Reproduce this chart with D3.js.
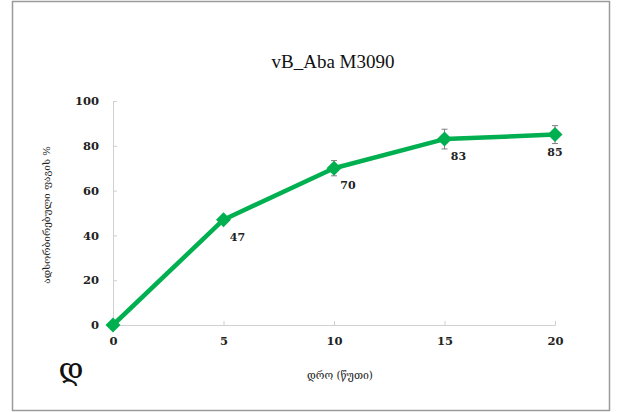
<!DOCTYPE html>
<html>
<head>
<meta charset="utf-8">
<script src="https://cdn.jsdelivr.net/npm/d3@7"></script>
<style>
  html, body { margin: 0; padding: 0; background: #fff; }
  svg { display: block; }
</style>
</head>
<body>
<svg id="chart" width="619" height="412"></svg>
<script>
// Adsorption time course for phage vB_Aba M3090
const times = [0, 5, 10, 15, 20];            // minutes
const adsorbed = [0, 47, 70, 83, 85];         // % adsorbed phage
const errors = [0, 1, 3.4, 4.4, 4];           // error bar half-widths (%)
const pointLabels = ["", "47", "70", "83", "85"];
const xTicks = [0, 5, 10, 15, 20];
const yTicks = [0, 20, 40, 60, 80, 100];

const title = "vB_Aba M3090";
const xTitle = "დრო (წუთი)";
const yTitle = "ადსორბირებული ფაგის %";
const cornerMark = "დ";

const svg = d3.select("#chart");
const serif = "'Liberation Serif', 'DejaVu Serif', serif";
const numFont = "'DejaVu Serif', 'Liberation Serif', serif";
const geo = "'DejaVu Serif', 'DejaVu Sans', serif";
const green = "#00B050";
const axisGray = "#d0d0d0";

// outer frame
svg.append("rect")
  .attr("x", 12.5).attr("y", 1.5)
  .attr("width", 597).attr("height", 409)
  .attr("fill", "none").attr("stroke", "#9a9a9a").attr("stroke-width", 1.5);

const x = d3.scaleLinear().domain([0, 20]).range([113, 555]);
const y = d3.scaleLinear().domain([0, 100]).range([325, 101]);

// y axis
const yAxis = svg.append("g")
  .attr("transform", `translate(${x(0)},0)`)
  .call(d3.axisLeft(y).tickValues(yTicks).tickSizeInner(-4).tickSizeOuter(-4).tickPadding(14));
yAxis.select(".domain").attr("stroke", axisGray);
yAxis.selectAll(".tick line").attr("stroke", axisGray);
yAxis.selectAll(".tick text")
  .attr("font-family", numFont).attr("font-size", 11.5).attr("font-weight", 600)
  .attr("fill", "#222");

// x axis
const xAxis = svg.append("g")
  .attr("transform", `translate(0,${y(0)})`)
  .call(d3.axisBottom(x).tickValues(xTicks).tickSizeInner(-4).tickSizeOuter(-4).tickPadding(12));
xAxis.select(".domain").attr("stroke", axisGray);
xAxis.selectAll(".tick line").attr("stroke", axisGray);
xAxis.selectAll(".tick text")
  .attr("font-family", numFont).attr("font-size", 11.5).attr("font-weight", 600)
  .attr("fill", "#222");

const data = times.map((t, i) => ({ t, v: adsorbed[i], e: errors[i], label: pointLabels[i] }));

// line
svg.append("path")
  .datum(data)
  .attr("fill", "none")
  .attr("stroke", green)
  .attr("stroke-width", 4.5)
  .attr("stroke-linejoin", "round")
  .attr("d", d3.line().x(d => x(d.t)).y(d => y(d.v)));

// error bars
const eb = svg.append("g").attr("stroke", "#7f7f7f").attr("stroke-width", 1);
data.filter(d => d.e > 0).forEach(d => {
  eb.append("line").attr("x1", x(d.t)).attr("x2", x(d.t))
    .attr("y1", y(d.v + d.e)).attr("y2", y(d.v - d.e));
  [d.v + d.e, d.v - d.e].forEach(v => {
    eb.append("line").attr("x1", x(d.t) - 3).attr("x2", x(d.t) + 3)
      .attr("y1", y(v)).attr("y2", y(v));
  });
});

// diamond markers
svg.append("g").selectAll("path")
  .data(data)
  .join("path")
  .attr("transform", d => `translate(${x(d.t)},${y(d.v)})`)
  .attr("d", "M0,-7.5L7.5,0L0,7.5L-7.5,0Z")
  .attr("fill", green);

// value labels
svg.append("g").selectAll("text")
  .data(data.filter(d => d.label))
  .join("text")
  .attr("x", d => x(d.t) + (d.t === 20 ? 0 : 14))
  .attr("y", d => y(d.v) + 21)
  .attr("text-anchor", "middle")
  .attr("font-family", numFont).attr("font-size", 11).attr("font-weight", 600)
  .attr("fill", "#222")
  .text(d => d.label);

// title
svg.append("text")
  .attr("x", 333).attr("y", 68)
  .attr("text-anchor", "middle")
  .attr("font-family", serif).attr("font-size", 19)
  .attr("fill", "#111")
  .text(title);

// axis titles
svg.append("text")
  .attr("x", 340).attr("y", 379)
  .attr("text-anchor", "middle")
  .attr("font-family", geo).attr("font-size", 10.5)
  .attr("fill", "#222")
  .text(xTitle);

svg.append("text")
  .attr("transform", "translate(50,215) rotate(-90)")
  .attr("text-anchor", "middle")
  .attr("font-family", geo).attr("font-size", 10)
  .attr("fill", "#222")
  .text(yTitle);

svg.append("text")
  .attr("x", 71).attr("y", 379)
  .attr("text-anchor", "middle")
  .attr("font-family", geo).attr("font-size", 30)
  .attr("fill", "#111")
  .text(cornerMark);
</script>
</body>
</html>
